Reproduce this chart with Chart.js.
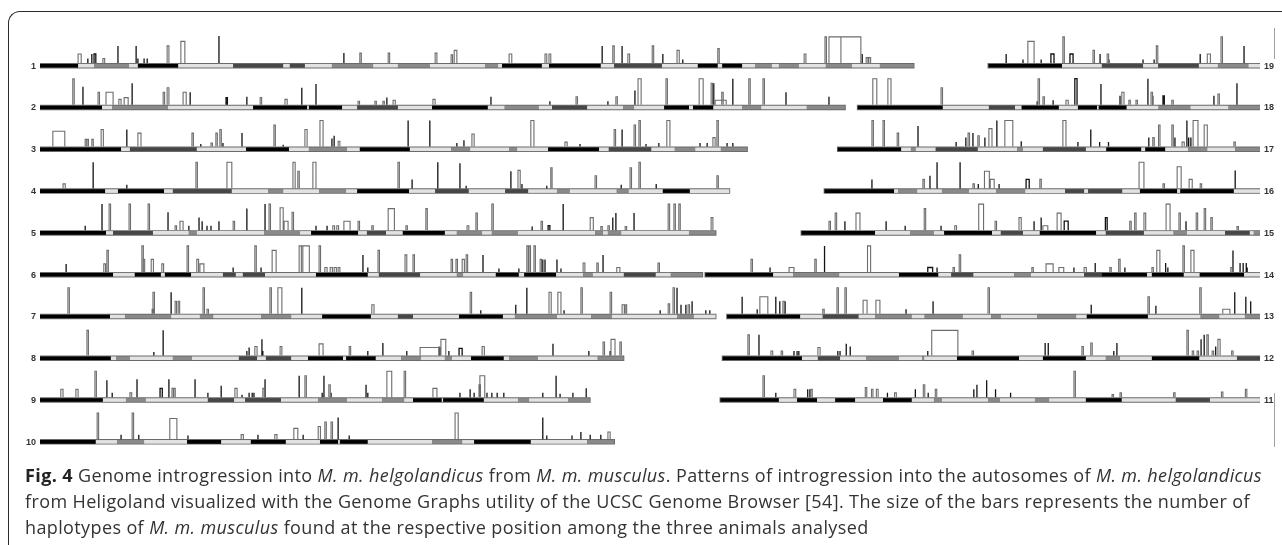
<!DOCTYPE html>
<html>
<head>
<meta charset="utf-8">
<script src="https://cdn.jsdelivr.net/npm/chart.js@4.4.1/dist/chart.umd.min.js"></script>
<style>
html,body{margin:0;padding:0;background:#fff;width:1282px;height:545px;overflow:hidden;}
#frame{position:absolute;left:8px;top:11px;width:1400px;height:700px;border-left:1.5px solid #2b2b2b;border-top:1.5px solid #2b2b2b;border-top-left-radius:12px;}
.vline{position:absolute;left:1274px;width:1px;background:#a0a0a0;}
#chart{position:absolute;left:0;top:0;}
.cap{position:absolute;left:25px;font-family:"Open Sans",sans-serif;font-size:18px;line-height:26px;color:#333;white-space:nowrap;}
.cap b{color:#222;}
</style>
</head>
<body>
<div id="frame"></div>
<div class="vline" style="top:28px;height:31px;"></div>
<div class="vline" style="top:393px;height:54px;"></div>
<canvas id="chart" width="1282" height="545"></canvas>
<div class="cap" id="cap1" data-w="1237" style="top:462px;"><b>Fig. 4</b> Genome introgression into <i>M. m. helgolandicus</i> from <i>M. m. musculus</i>. Patterns of introgression into the autosomes of <i>M. m. helgolandicus</i></div>
<div class="cap" id="cap2" data-w="1225" style="top:488px;">from Heligoland visualized with the Genome Graphs utility of the UCSC Genome Browser [54]. The size of the bars represents the number of</div>
<div class="cap" id="cap3" style="top:514px;">haplotypes of <i>M. m. musculus</i> found at the respective position among the three animals analysed</div>
<script>
// ---------- DATA (positions in Mb, heights = number of M. m. musculus haplotypes) ----------
// band boundaries (Mb) and band shade codes (0 black, 1 dark grey, 2 grey, 3 light)
const bandsChr1 = [0,8.6,12.2,20.1,22.1,31.2,43.6,54.9,56.4,59.8,65.9,75.2,80.8,88.0,100.5,103.4,104.3,113.3,114.9,126.6,129.6,140.4,148.5,153.0,154.0,158.5,161.4,165.2,166.8,171.3,177.4,183.3,189.6,197.2];
const shadesChr1 = [0,3,2,3,0,3,1,3,1,3,2,3,2,3,2,3,0,3,0,3,1,3,0,3,0,3,2,3,2,3,2,3,2];
const bandsChr2 = [0,14.0,16.3,28.9,48.1,60.3,60.7,68.2,71.6,80.8,88.5,101.1,104.9,112.6,115.6,123.5,131.6,134.1,140.9,146.5,147.4,152.0,158.5,162.8,173.1,181.7];
const shadesChr2 = [0,3,2,3,0,3,0,3,1,3,0,3,2,3,1,3,2,3,0,3,0,3,2,3,2];
const bandsChr3 = [0,18.3,20.3,35.4,46.5,56.2,60.7,69.3,72.2,83.5,92.8,97.1,105.9,107.7,114.7,126.2,128.4,138.0,143.3,147.9,153.7,159.6];
const shadesChr3 = [0,3,1,3,0,3,2,3,0,3,2,3,2,3,0,3,1,3,2,3,2];
const bandsChr4 = [0,14.7,17.6,28.0,30.0,43.3,51.5,54.9,63.0,69.1,71.6,83.3,89.2,96.8,105.0,110.2,116.7,119.6,130.2,132.9,140.6,146.7,155.6];
const shadesChr4 = [0,3,0,3,1,3,2,3,2,3,0,3,1,3,1,3,2,3,2,3,0,3];
const bandsChr5 = [0,14.9,16.5,25.5,33.6,35.4,50.6,58.7,61.2,71.8,73.8,78.1,81.9,91.4,94.1,99.8,102.0,107.9,125.3,127.1,128.2,131.2,146.5,152.5];
const shadesChr5 = [0,3,1,3,2,3,2,3,0,3,1,3,0,3,2,3,2,3,2,3,2,3,2];
const bandsChr6 = [0,16.5,21.4,27.3,28.2,34.1,41.3,44.2,45.8,50.8,62.3,74.0,76.5,85.8,94.1,95.5,102.9,108.1,109.3,116.5,122.6,124.8,131.8,139.0,142.4,149.5];
const shadesChr6 = [0,3,0,3,0,3,1,3,1,3,0,3,1,3,2,3,0,3,0,3,2,3,1,3,2];
const bandsChr7 = [0,15.8,19.2,29.6,36.1,39.1,49.9,56.7,63.7,74.7,80.8,84.2,94.6,104.5,107.2,116.7,124.4,129.1,143.8,147.6,152.5];
const shadesChr7 = [0,3,2,3,2,3,2,3,0,3,1,3,0,3,2,3,2,3,2,3];
const bandsChr8 = [0,16.0,17.2,20.3,30.0,34.3,44.9,49.0,51.0,56.7,60.5,68.4,69.1,75.8,81.5,86.0,91.4,93.0,97.3,104.7,105.9,112.4,125.9,131.7];
const shadesChr8 = [0,3,2,3,2,3,1,3,1,3,0,3,0,3,2,3,2,3,0,3,2,3,2];
const bandsChr9 = [0,14.2,19.4,23.9,37.9,43.8,46.3,54.4,62.8,69.3,77.2,82.2,84.2,90.7,91.0,100.2,107.9,110.4,119.2,124.1];
const shadesChr9 = [0,3,2,3,1,3,1,3,2,3,2,3,0,3,0,3,2,3,2];
const bandsChr10 = [0,12.6,17.4,23.5,33.2,40.9,47.6,55.5,63.2,67.3,67.7,74.0,88.5,95.3,98.0,110.8,123.5,129.6];
const shadesChr10 = [0,3,2,3,0,3,0,3,0,3,0,3,2,3,0,3,2];
const bandsChr11 = [0,13.2,17.3,21.8,25.9,30.4,36.7,43.2,48.2,50.0,60.4,63.1,71.0,74.2,82.5,90.6,102.8,110.5,121.8];
const shadesChr11 = [0,3,0,3,0,3,0,3,2,3,2,3,2,3,0,3,1,3];
const bandsChr12 = [0,17.9,21.5,26.5,32.4,39.8,45.0,45.5,52.9,66.9,72.3,82.0,86.5,89.7,96.9,107.6,116.1,121.3];
const shadesChr12 = [0,3,1,3,2,3,2,3,0,3,0,3,2,3,0,3,1];
const bandsChr13 = [0,16.5,21.6,29.7,33.4,41.7,44.6,53.2,59.6,61.8,70.0,78.8,81.2,95.0,106.9,111.1,116.9,120.3];
const shadesChr13 = [0,3,1,3,2,3,2,3,2,3,2,3,0,3,2,3,2];
const bandsChr14 = [0,15.3,19.8,30.2,43.7,52.6,55.5,60.5,69.7,73.5,85.5,89.5,99.7,100.8,108.0,111.6,121.6,125.2];
const shadesChr14 = [0,3,2,3,0,3,1,3,2,3,1,0,3,0,3,0,3];
const bandsChr15 = [0,16.6,24.5,29.9,32.2,43.0,45.0,50.0,53.8,66.5,68.7,77.3,84.0,87.0,95.6,101.2,102.1,103.5];
const shadesChr15 = [0,3,2,3,0,3,1,3,0,3,1,3,2,3,1,3,2];
const bandsChr16 = [0,15.7,16.6,20.9,26.5,32.6,38.7,45.3,54.3,58.6,59.5,67.2,71.2,79.6,80.3,92.4,98.3];
const shadesChr16 = [0,3,2,3,2,3,2,3,1,3,1,3,0,3,0,3];
const bandsChr17 = [0,14.3,16.5,17.6,22.1,31.6,40.5,41.8,46.3,56.0,60.6,68.5,69.4,73.9,79.1,83.4,89.7,95.3];
const shadesChr17 = [0,3,2,3,1,3,2,3,1,3,0,3,0,3,2,3,2];
const bandsChr18 = [0,19.2,29.6,35.5,37.0,45.4,49.7,54.0,54.4,60.7,67.9,75.1,83.7,90.8];
const shadesChr18 = [0,3,1,3,0,3,0,3,0,3,2,3,2];
const bandsChr19 = [0,16.6,25.6,34.9,38.3,47.5,51.8,58.7,61.3];
const shadesChr19 = [0,3,1,3,1,3,2,3];

// introgression bars: [position Mb, haplotypes, block width Mb, dark(1)/grey(0)]
const spikesChr1 = [[8.6,1,0.7,0],[10.8,0.5,0,1],[11.7,1,0,1],[12.2,1,0.4,1],[12.6,0.6,0,1],[14.2,0.5,0.4,0],[17.6,1.9,0,1],[21.7,1.9,0,1],[22.1,0.5,0,1],[23.5,0.5,0,1],[24.2,0.5,0,1],[28.7,1.9,0.4,0],[31.8,2.4,0.9,0],[40.4,3,0,1],[68.6,1.1,0,1],[72.2,1.1,0,0],[78.6,1.1,0,0],[89.2,1.1,0.4,0],[92.8,0.9,0,0],[93.5,1.4,0.6,0],[105.9,1,0.6,0],[114.0,1,0.4,0],[114.9,1,0.4,0],[126.9,1.9,0,1],[129.3,1.9,0,0],[131.4,1.9,0,1],[132.7,1,0.4,0],[138.2,1.9,0,0],[140.6,1,0,1],[143.8,1.4,0.5,0],[145.1,0.4,0,1],[153.0,1.6,0,0],[172.5,1,0.4,0],[177.2,2.9,0,0],[178.1,2.9,2.7,0],[180.8,2.9,4.5,0],[185.6,1,0,1],[186.5,0.6,0.4,0],[187.1,0.6,0.4,0]];
const spikesChr2 = [[7.4,2.9,0,0],[9.7,2,0,1],[13.1,1.4,0,0],[14.9,1.4,1.6,0],[17.8,0.6,0.5,0],[19.0,0.8,0.9,0],[20.8,2.4,0,1],[27.8,1.4,0,0],[28.7,1.9,0.4,0],[32.3,1.4,0.7,0],[33.9,1.4,0,1],[42.0,0.8,0.3,1],[46.7,0.9,0,1],[49.7,0.8,0,0],[55.3,0.6,0.5,0],[59.1,1.9,0,1],[62.3,2.3,0,1],[71.8,0.4,0,0],[75.6,0.4,0,0],[77.4,0.4,0,0],[78.3,0.8,0,1],[79.7,0.5,0.5,0],[88.7,0.6,0.5,0],[101.8,0.9,0,1],[115.1,0.4,0,1],[121.0,0.9,0,0],[128.2,0.4,0,1],[130.0,0.9,0,0],[134.3,1.6,0,1],[135.0,2.9,0.7,0],[141.3,2.9,0,0],[148.8,2.9,0.9,0],[151.5,2.4,0,0],[152.1,2.4,0,1],[152.4,0.5,2.5,0],[153.9,1.4,0,0],[156.4,2.9,0,1],[160.0,2.9,0,0],[163.2,2.9,0,0],[168.4,1.4,0,1],[178.1,0.9,0,1]];
const spikesChr3 = [[2.9,1.7,2.7,0],[10.2,0.8,0,0],[10.6,0.8,0,0],[11.7,0.8,0,0],[13.8,1.9,0.5,0],[19.6,1.9,0,1],[22.1,1.5,0.7,0],[34.3,1.5,0,0],[36.3,0.3,0,1],[38.6,0.4,0,0],[39.7,1.5,0,0],[40.6,1.9,0,0],[41.3,0.4,0,1],[45.6,1.5,0,1],[52.8,2.4,0,0],[54.9,0.2,0,1],[59.8,1.9,0.5,0],[63.2,2.9,0.7,0],[65.9,0.9,0,1],[66.4,1.2,0,1],[67.3,0.6,0.4,0],[83.1,2.9,0,1],[88.0,2.9,0,1],[94.1,0.4,0,1],[95.7,0.7,0,1],[97.5,1.4,0.5,0],[110.8,2.9,0.7,0],[118.5,0.5,0.5,0],[121.9,0.3,0,1],[129.6,1.9,0,0],[131.4,1.9,0,1],[134.1,2.4,0,0],[135.2,2.9,0,0],[136.8,0.3,0,1],[139.7,0.4,0,1],[141.5,2.9,0.7,0],[149.0,0.4,0,1],[150.6,0.4,0,1],[151.9,1,0.5,0],[152.8,2.9,0,0],[155.1,0.4,0,1],[156.4,0.4,0,1]];
const spikesChr4 = [[5.2,0.5,0.5,0],[12.0,2.9,0,1],[19.6,0.4,0,1],[35.2,2.9,0,0],[42.2,2.9,1.1,0],[57.1,2.9,0.5,0],[58.2,1.9,0,0],[61.6,2.9,0.7,0],[80.8,2.9,0,0],[84.0,1,0,1],[89.8,2.9,0,1],[94.8,2.8,0,1],[96.2,0.3,0,1],[106.3,1.9,0,1],[107.9,2,0.5,0],[108.8,0.5,0,1],[114.4,0.3,0,1],[115.3,2.3,0.3,0],[125.3,1.4,0,0],[131.2,0.4,0,1],[133.2,2.3,0,0],[135.2,2.9,0,0],[139.1,0.5,0,1],[152.8,1.4,0,0]];
const spikesChr5 = [[10.2,0.5,0,1],[14.0,2.9,0,1],[15.6,2.9,0,0],[20.1,2.9,0,0],[24.4,2.9,0,0],[28.9,2,0,1],[30.5,0.5,0,0],[31.6,1,0.7,0],[33.6,0.5,0,1],[35.9,1.4,0,1],[36.6,1,0,1],[37.7,0.5,0,1],[38.6,0.5,0,1],[40.4,1,0,1],[43.6,1,0,0],[46.7,2.4,0,1],[50.8,2.9,0,1],[51.7,2.9,0,0],[54.2,2.5,0.7,0],[55.1,1,0.9,0],[56.9,2,0,0],[62.3,0.5,0,1],[64.8,0.5,0,1],[66.1,0.5,0.4,0],[67.0,0.5,0.4,0],[68.6,1,1.4,0],[71.8,1,0,0],[74.9,0.5,0,0],[78.6,2.4,1.4,0],[82.6,0.5,0,0],[87.1,2.4,0,0],[96.4,0.5,0.4,0],[98.4,1.9,0,0],[102.0,2.9,0,0],[111.1,0.4,0,1],[113.1,1,0,0],[114.7,0.5,0.4,1],[118.1,2.9,0,1],[124.2,1.4,0.7,0],[126.6,0.4,0,0],[128.2,0.5,0,0],[129.3,1.4,0,1],[130.0,1.9,0,1],[132.1,0.4,0,0],[134.1,1.9,0,1],[141.8,2.9,0,0],[143.1,2.9,0,0],[144.2,2.9,0,0],[151.5,1.4,0.4,0]];
const spikesChr6 = [[5.9,0.9,0,1],[14.4,0.9,0.4,0],[15.1,2.4,0,0],[23.0,2.9,0,0],[23.3,1.4,0,0],[25.1,1.4,0.5,0],[27.5,0.9,0.4,0],[33.2,2.9,0,0],[35.4,1.4,0.4,0],[36.1,0.9,0.9,0],[43.6,0.5,0,1],[48.5,2.9,0,0],[49.9,0.5,0,1],[52.4,2.4,0.9,0],[58.5,2.9,2.3,0],[59.0,2.9,0,0],[63.0,2.9,0,0],[64.3,0.5,0.5,0],[65.5,0.5,0.5,0],[66.4,0.5,0.5,0],[67.3,0.5,0.4,0],[72.9,1.9,0,1],[74.0,0.5,0,1],[76.3,2.4,0,0],[82.4,1.9,0.4,0],[84.2,1.9,0,0],[92.8,1.4,0,0],[93.9,1.4,0,0],[95.3,1.4,0.5,0],[96.2,1.9,0,0],[100.0,1.9,0,1],[103.6,0.4,0,1],[108.1,0.4,0,1],[109.9,2.9,0,0],[110.4,2.9,0,0],[111.5,2.9,0,0],[112.9,1.4,0,0],[113.5,1.4,0,1],[114.0,1.4,0,1],[116.7,1.4,0,1],[117.6,0.4,0,1],[122.6,1,0.4,0],[125.7,1,0,0],[127.1,1.9,0,1],[130.2,0.5,0.7,0],[139.5,1,0,0]];
const spikesChr7 = [[6.3,2.9,0,0],[25.3,0.5,0,0],[25.5,2.4,0,0],[29.6,2.4,0,1],[30.5,1.4,0,0],[31.2,1.4,0,0],[36.8,2.9,0,0],[37.7,0.5,0,0],[51.9,2.9,0,0],[53.7,2.9,0.9,0],[59.1,2.9,0,1],[74.9,1,0.5,0],[97.1,2.4,0,0],[99.5,0.4,0,1],[107.4,1,0,1],[109.9,2.9,0,1],[114.9,2.4,0.5,0],[116.9,2.4,0.7,0],[118.3,0.4,0,1],[122.1,2.9,0,0],[128.7,2.4,0,0],[131.4,1,0.5,0],[132.1,1,0,0],[140.0,0.4,0,1],[141.8,1.1,0,0],[142.9,2.9,0,0],[143.8,2.9,0,1],[144.7,1,0,1],[145.8,1,0,1],[146.3,1,0,0],[147.2,1.4,0,1],[150.3,0.4,0,1],[151.2,0.4,0,1]];
const spikesChr8 = [[10.6,2.8,0,0],[25.7,0.4,0,1],[27.8,2.8,0,1],[46.7,0.5,0,1],[47.2,0.9,0,1],[48.5,1,0.5,0],[50.1,1.8,0,1],[50.3,0.5,0,1],[54.2,1,0.4,0],[63.0,1.3,0.9,0],[69.8,1,0,0],[74.0,0.5,0,1],[77.4,1.4,0,1],[82.8,0.5,0,1],[85.8,0.9,4.5,0],[90.1,1,0,1],[90.5,1.8,1.1,0],[92.3,0.5,0,1],[94.6,0.8,0.7,1],[99.8,1,0.5,0],[115.8,1.3,0,1],[123.9,0.5,0,1],[127.1,1.5,0,0],[128.7,0.5,0,1],[128.9,1.8,0.9,0],[130.9,1.5,0,0]];
const spikesChr9 = [[4.7,0.9,0.5,0],[8.1,0.9,0.5,0],[12.4,2.9,0,0],[15.1,1.9,0,1],[16.3,0.5,0,1],[20.3,0.5,0.4,0],[21.9,2,0,1],[27.1,1,0.5,1],[29.1,2,0,1],[29.8,1,0,0],[30.2,1,0,0],[35.0,2,0,1],[37.9,0.5,0,1],[40.9,1.3,0,1],[44.0,1,0.5,0],[45.6,0.3,0,1],[47.2,0.5,0,1],[47.9,0.5,0,1],[48.3,0.5,0,1],[50.3,1,0,0],[50.8,2,0,1],[58.5,2.4,0,1],[59.8,2.4,0,0],[63.7,0.5,0,1],[64.1,2.4,0,1],[65.2,1.4,0,0],[65.7,0.5,0,1],[73.6,1.4,0,1],[74.0,0.5,0,1],[78.3,2.9,1.1,0],[82.2,2.9,0,0],[88.7,1,0.9,0],[94.8,0.5,0,1],[97.1,0.9,0,1],[98.0,0.5,0,1],[99.1,1.4,0,0],[99.3,2.4,1.1,0],[100.9,0.5,0,1],[102.0,0.5,0,1],[103.2,0.5,0,1],[104.7,0.5,0,1],[113.5,0.5,0,1],[116.5,2.4,0,1],[117.4,0.4,0,1],[120.3,0.5,0,1],[123.3,1,0,1]];
const spikesChr10 = [[12.9,2.9,0,0],[18.3,0.5,0,1],[20.8,2.9,0,0],[22.3,0.5,0,1],[29.3,2.3,1.6,0],[33.4,0.4,0,1],[45.4,0.5,0.5,0],[49.2,0.5,0,1],[53.0,0.5,0.5,0],[57.3,1.2,0.9,0],[59.4,0.5,0,1],[62.8,1.4,0.5,0],[64.3,1.9,0,0],[65.7,1.9,0,0],[67.3,2.4,0,1],[69.8,0.4,0,1],[93.7,2.9,0.7,0],[113.5,2.4,0,1],[114.4,0.4,0,1],[120.1,0.4,0,1],[122.1,0.8,0,1],[124.2,0.5,0,1],[126.6,0.5,0,1],[128.2,0.8,0.5,0]];
const spikesChr11 = [[9.6,2.4,0,0],[12.5,0.5,0,1],[16.6,0.9,0.4,0],[19.7,0.9,0,1],[20.2,0.9,0,1],[20.4,0.9,0,0],[32.7,1.1,0,0],[34.1,0.9,0,0],[35.2,0.9,0.4,0],[37.7,0.5,0,1],[39.3,0.5,0.4,0],[44.0,0.9,0,1],[45.8,1.4,0,0],[46.9,0.5,0,1],[48.5,0.9,0,0],[57.2,0.9,0,1],[57.9,1.4,0,1],[60.1,1.9,0,1],[62.1,0.9,0,1],[65.5,0.5,0,1],[79.8,2.9,0,0],[88.4,0.3,0,0],[90.2,0.5,0,0],[102.3,0.5,0,0],[113.1,0.6,0,0],[118.5,0.9,0,0]];
const spikesChr12 = [[5.7,2.3,0,0],[8.2,2.3,0,1],[10.9,0.5,0.4,0],[13.2,0.5,0,0],[16.1,0.5,0,1],[16.8,0.5,0,1],[17.2,0.5,0,1],[21.5,0.9,0.5,0],[26.0,0.5,0,1],[26.5,0.5,0,1],[27.9,1.3,0,1],[28.8,1,0,1],[46.3,0.5,0,1],[47.2,2.8,5.9,0],[56.3,0.5,0,0],[72.8,1.4,0,1],[73.5,1.4,0,1],[81.1,1,0,0],[83.1,1.4,0,0],[88.3,0.5,0,1],[89.0,1.4,0,1],[104.8,2.8,0,0],[106.0,0.5,0,0],[107.1,0.5,0,0],[108.0,1.8,0,1],[108.7,2.3,0,1],[109.3,2.3,0,0],[110.5,0.5,0,0],[111.3,1,0,1],[111.8,1.8,0.5,0],[114.9,0.5,0,0]];
const spikesChr13 = [[3.4,1.9,0,1],[6.8,0.5,0,1],[7.4,1.9,1.8,0],[11.0,1.9,0,1],[11.9,1.4,0,1],[12.6,1.4,0,0],[13.1,1.4,0,1],[21.6,0.5,0,0],[24.8,2.9,0,0],[26.6,2.9,0,0],[30.7,1.5,0.9,0],[33.6,1.5,0.9,0],[40.4,0.5,0,1],[46.5,1.4,0,1],[58.9,2.9,0,0],[82.2,1,0,1],[95.0,1.9,0,0],[96.8,0.9,0,1],[106.7,2.9,0,0],[111.9,0.5,1.6,0],[114.6,2.4,0,1],[117.1,1.9,0,1],[118.2,1.4,0,1]];
const spikesChr14 = [[10.3,1.4,0,0],[14.6,0.5,0,1],[18.9,0.5,1.1,0],[24.7,1.4,0,0],[26.9,2.9,0,1],[36.6,2.9,0.7,0],[50.2,0.5,1.1,1],[52.3,0.5,0,1],[55.9,0.5,0,0],[57.3,1.9,0,0],[73.7,0.5,0,0],[76.9,0.9,1.6,0],[79.8,0.5,1.1,0],[83.2,0.5,0,1],[85.5,0.5,0.5,0],[88.0,1,0,1],[91.3,0.5,0,0],[93.3,1.4,0,0],[94.7,0.5,0,1],[100.8,0.5,0,0],[101.9,2.4,0.7,0],[103.9,1,0,1],[104.4,0.5,0,1],[107.8,2.9,0,0],[109.6,2.4,0.7,0],[118.6,0.5,0,0],[119.1,2.4,0,1],[120.7,1,0,1],[121.4,1,0,1],[122.1,1,0,1],[122.3,0.5,0,1]];
const spikesChr15 = [[6.2,1,0,0],[7.6,1.9,0,0],[9.8,1,0,1],[12.3,1.9,0.9,0],[19.1,1,0,1],[23.4,0.5,0,1],[27.7,2.4,0,0],[31.5,0.5,0,1],[34.6,0.5,0.4,0],[40.0,2.9,1.1,0],[43.7,1,0,0],[49.1,1.4,0.5,0],[52.5,1,0,1],[54.1,1.4,0,1],[54.5,0.5,1.1,0],[57.7,1.9,0.9,0],[59.3,1,0.9,1],[68.6,1.4,0.4,1],[74.1,1,0,0],[75.2,1.9,0,0],[77.3,1.9,0.4,0],[82.3,2.9,0.9,0],[85.2,1.9,0,0],[86.8,1,0,1],[89.1,1.9,0,0],[90.9,2.4,0,0],[92.4,1.4,0,0],[98.3,0.4,0,0]];
const spikesChr16 = [[10.7,1,0,1],[22.2,1,0,0],[23.8,1.4,0,1],[25.4,2.9,0,1],[30.6,2.9,0,1],[33.5,0.5,0,0],[34.7,0.5,0,1],[36.1,1.9,1.1,0],[37.4,1,0.9,0],[39.4,0.5,0,1],[45.5,1,0.7,1],[48.6,1,0,0],[71.0,2.9,1.1,0],[76.4,0.5,0,0],[79.6,2.4,0.9,0],[82.3,1,0.7,0],[84.8,0.5,0,0],[92.7,2,0,1]];
const spikesChr17 = [[7.7,2.9,0,0],[10.2,2.9,0,0],[13.4,1.5,0,0],[18.1,2.3,0,1],[26.7,0.5,0,1],[28.9,1,0,1],[29.4,1.5,0,0],[30.5,1.5,0,1],[31.6,1.2,0,0],[33.2,1,0,1],[34.1,2,0.7,0],[35.9,2.9,0,1],[37.7,2.9,1.8,0],[41.4,0.6,0,1],[50.8,2.9,0.7,0],[54.2,0.5,0,1],[57.1,1.9,0,1],[59.1,0.5,0,1],[61.1,0.5,0,1],[70.2,1,0,1],[71.1,1,0,0],[72.4,2.4,0,0],[75.4,2.4,0,0],[76.1,1,0,1],[77.7,0.5,0.5,0],[78.8,2.9,0,1],[79.2,1,0,1],[79.7,1,0,1],[80.2,2.9,1.1,0],[82.7,2.4,0.7,0],[89.4,0.5,0,0]];
const spikesChr18 = [[3.4,2.9,0.9,0],[6.8,2.9,0.7,0],[18.8,1.9,0,0],[40.5,0.4,0,1],[40.7,2.9,0,0],[41.8,0.9,0,0],[44.1,0.5,0,1],[47.0,0.5,0.5,0],[49.0,2.9,0.5,1],[54.9,2.3,0,1],[59.2,1,0,1],[59.6,1.4,0.5,0],[61.2,0.5,0,0],[62.8,0.5,0,0],[65.5,2.9,0,1],[66.2,1.4,0,0],[66.6,1,0,1],[68.9,1,0.3,1],[70.9,0.5,0,0],[80.4,1,0,1],[81.3,1.2,0,0],[85.6,2.4,0,1]];
const spikesChr19 = [[4.0,1,0,1],[7.8,0.4,0,1],[8.9,2.4,1.4,0],[11.9,0.4,0,1],[14.1,1,0.7,1],[16.8,2.9,0,0],[18.4,1,0.7,1],[23.6,1.4,0,0],[25.2,1,0,1],[26.8,1,0,0],[27.2,0.4,0,1],[34.9,0.4,0,1],[37.4,0.4,0,1],[37.9,1.9,0,0],[47.8,1,0,1],[49.4,1,0.7,0],[52.5,2.9,0,0],[57.7,1.9,0,1]];

const leftNames = ['1','2','3','4','5','6','7','8','9','10'];
const rightNames = ['19','18','17','16','15','14','13','12','11'];

// ---------- layout / style ----------
const X_MAX = 275.4;      // Mb spanned by the plot area
const ROW_STEP = 4.644;   // vertical distance between rows (haplotype units)
const BAND_OFF = 0.3;
const SHADE = ['#000000','#474747','#8a8a8a','#e2e2e2'];

const bandsBy = {1:bandsChr1,2:bandsChr2,3:bandsChr3,4:bandsChr4,5:bandsChr5,6:bandsChr6,7:bandsChr7,8:bandsChr8,9:bandsChr9,10:bandsChr10,11:bandsChr11,12:bandsChr12,13:bandsChr13,14:bandsChr14,15:bandsChr15,16:bandsChr16,17:bandsChr17,18:bandsChr18,19:bandsChr19};
const shadesBy = {1:shadesChr1,2:shadesChr2,3:shadesChr3,4:shadesChr4,5:shadesChr5,6:shadesChr6,7:shadesChr7,8:shadesChr8,9:shadesChr9,10:shadesChr10,11:shadesChr11,12:shadesChr12,13:shadesChr13,14:shadesChr14,15:shadesChr15,16:shadesChr16,17:shadesChr17,18:shadesChr18,19:shadesChr19};
const spikesBy = {1:spikesChr1,2:spikesChr2,3:spikesChr3,4:spikesChr4,5:spikesChr5,6:spikesChr6,7:spikesChr7,8:spikesChr8,9:spikesChr9,10:spikesChr10,11:spikesChr11,12:spikesChr12,13:spikesChr13,14:spikesChr14,15:spikesChr15,16:spikesChr16,17:spikesChr17,18:spikesChr18,19:spikesChr19};

const chromTable = [];
leftNames.forEach((n,i)=>chromTable.push({name:n, side:'L', row:i}));
rightNames.forEach((n,i)=>chromTable.push({name:n, side:'R', row:i}));
chromTable.forEach(c=>{
  c.bands = bandsBy[c.name]; c.shades = shadesBy[c.name]; c.spikes = spikesBy[c.name];
  c.len = c.bands[c.bands.length-1];
  c.offset = c.side==='L' ? 0 : X_MAX - c.len;
  c.base = -c.row*ROW_STEP;
});

function spikePoints(list, offset, base, dark){
  const pts = [];
  for (const [pos,h,w,d] of list){
    if (d !== dark) continue;
    const x0 = offset + pos, top = base + h;
    const ww = w > 0 ? w : (dark ? 0 : 0.33);
    if (ww === 0){
      pts.push({x:x0,y:base},{x:x0,y:top},{x:x0,y:null});
    } else {
      pts.push({x:x0,y:base},{x:x0,y:top},{x:x0+ww,y:top},{x:x0+ww,y:base},{x:x0+ww,y:null});
    }
  }
  return pts;
}

const datasets = [];
chromTable.forEach(c=>{
  const yb = c.base - BAND_OFF;
  datasets.push({label:'chr'+c.name+' grey', data: spikePoints(c.spikes, c.offset, c.base, 0),
    borderColor:'#6c6c6c', borderWidth:1.1, order:1});
  datasets.push({label:'chr'+c.name+' dark', data: spikePoints(c.spikes, c.offset, c.base, 1),
    borderColor:'#121212', borderWidth:1.3, order:1});
  datasets.push({label:'chr'+c.name+' outline', data:[{x:c.offset-0.2,y:yb},{x:c.offset+c.len+0.2,y:yb}],
    borderColor:'#6a6a6a', borderWidth:5.5, borderCapStyle:'butt', order:3});
  const shades = c.shades;
  datasets.push({label:'chr'+c.name+' bands', data:c.bands.map(b=>({x:c.offset+b,y:yb})),
    borderColor:'#000', borderWidth:3.6, borderCapStyle:'butt', order:2,
    segment:{borderColor: ctx => SHADE[shades[ctx.p0DataIndex]]}});
});

const labelPlugin = {
  id:'chromLabels',
  afterDatasetsDraw(chart){
    const {ctx, scales:{x,y}} = chart;
    ctx.save();
    ctx.font = 'bold 9px "Liberation Sans Narrow", "Liberation Sans", Arial, sans-serif';
    ctx.fillStyle = '#333';
    ctx.textBaseline = 'middle';
    for (const c of chromTable){
      const py = y.getPixelForValue(c.base - BAND_OFF) + 0.5;
      if (c.side === 'L'){ ctx.textAlign='right'; ctx.fillText(c.name, x.getPixelForValue(0)-4, py); }
      else { ctx.textAlign='left'; ctx.fillText(c.name, x.getPixelForValue(X_MAX)+4, py); }
    }
    ctx.restore();
  }
};

new Chart(document.getElementById('chart'), {
  type:'line',
  data:{datasets},
  options:{
    responsive:false, animation:false, events:[],
    layout:{padding:{left:40,right:22,top:10,bottom:95}},
    elements:{point:{radius:0}, line:{tension:0}},
    spanGaps:false,
    plugins:{legend:{display:false}, tooltip:{enabled:false}},
    scales:{
      x:{type:'linear', min:0, max:X_MAX, display:false},
      y:{type:'linear', min:-43.0, max:5.889, display:false}
    }
  },
  plugins:[labelPlugin]
});

// fit the first two caption lines to the widths of the original caption; last line uses the same spacing
function fitCaptions(){
  const els = [document.getElementById('cap1'), document.getElementById('cap2'), document.getElementById('cap3')];
  els.forEach(el=>{ el.style.letterSpacing = '0px'; });
  let ls = 0;
  els.slice(0,2).forEach(el=>{
    const target = parseFloat(el.dataset.w);
    const w = el.getBoundingClientRect().width;
    const n = el.textContent.length;
    const v = (target - w)/n;
    el.style.letterSpacing = v.toFixed(3) + 'px';
    ls += v/2;
  });
  els[2].style.letterSpacing = Math.max(0, ls).toFixed(3) + 'px';
}
if (document.fonts && document.fonts.ready) { document.fonts.ready.then(fitCaptions); }
fitCaptions();
</script>
</body>
</html>
